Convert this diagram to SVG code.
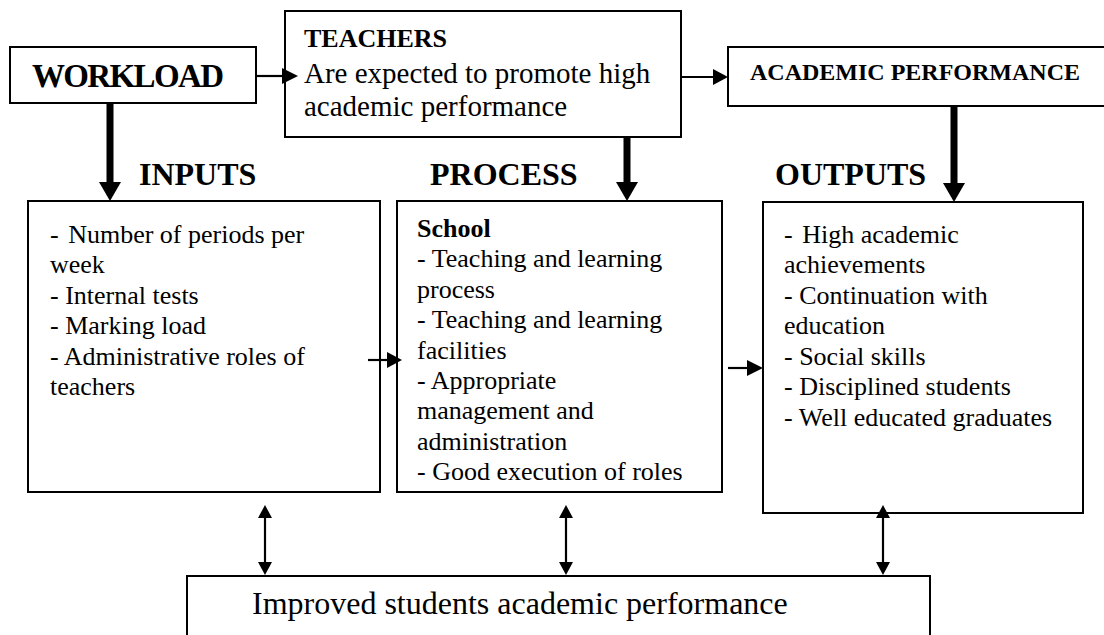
<svg xmlns="http://www.w3.org/2000/svg" width="1104" height="635" viewBox="0 0 1104 635">
<style>
.box{fill:#fff;stroke:#000;stroke-width:2}
.t{font-family:"Liberation Serif","Times New Roman",serif;fill:#000}
.b{font-weight:bold}
.body{font-size:26px}
.title{font-size:32px;font-weight:bold}
.thin{stroke:#000;stroke-width:2.2;fill:none}
.thick{stroke:#000;stroke-width:7;fill:none}
.head{fill:#000}
</style>
<rect width="1104" height="635" fill="#fff"/>

<g id="workload">
<rect class="box" x="10" y="47" width="246" height="56"/>
<text class="t b" x="32" y="87" font-size="33" textLength="192" lengthAdjust="spacing">WORKLOAD</text>
</g>

<g id="teachers">
<rect class="box" x="285" y="11" width="396" height="126"/>
<text class="t b" x="304" y="47" font-size="26">TEACHERS</text>
<text class="t" x="304" y="83" font-size="29">Are expected to promote high</text>
<text class="t" x="304" y="116" font-size="29">academic performance</text>
</g>

<g id="academic-performance">
<rect class="box" x="728" y="47" width="390" height="59"/>
<text class="t b" x="750" y="80" font-size="24">ACADEMIC PERFORMANCE</text>
</g>

<g id="labels">
<text class="t title" x="139" y="185">INPUTS</text>
<text class="t title" x="430" y="185">PROCESS</text>
<text class="t title" x="775" y="185">OUTPUTS</text>
</g>

<g id="inputs">
<rect class="box" x="28" y="201" width="352" height="291"/>
<text class="t body" x="50" y="243">- <tspan dx="3">Number of periods per</tspan></text>
<text class="t body" x="50" y="273">week</text>
<text class="t body" x="50" y="304">- Internal tests</text>
<text class="t body" x="50" y="334">- Marking load</text>
<text class="t body" x="50" y="365">- Administrative roles  of</text>
<text class="t body" x="50" y="395">teachers</text>
</g>

<g id="process">
<rect class="box" x="397" y="201" width="325" height="291"/>
<text class="t body b" x="417" y="237">School</text>
<text class="t body" x="417" y="267">- Teaching and learning</text>
<text class="t body" x="417" y="298">process</text>
<text class="t body" x="417" y="328">- Teaching and learning</text>
<text class="t body" x="417" y="359">facilities</text>
<text class="t body" x="417" y="389">- Appropriate</text>
<text class="t body" x="417" y="419">management and</text>
<text class="t body" x="417" y="450">administration</text>
<text class="t body" x="417" y="480">- Good execution of roles</text>
</g>

<g id="outputs">
<rect class="box" x="763" y="202" width="320" height="311"/>
<text class="t body" x="784" y="243">- <tspan dx="3">High academic</tspan></text>
<text class="t body" x="784" y="273">achievements</text>
<text class="t body" x="784" y="304">- Continuation with</text>
<text class="t body" x="784" y="334">education</text>
<text class="t body" x="784" y="365">- Social skills</text>
<text class="t body" x="784" y="395">- Disciplined students</text>
<text class="t body" x="784" y="426">- Well educated graduates</text>
</g>

<g id="result">
<rect class="box" x="187" y="576" width="743" height="80"/>
<text class="t" x="252" y="614" font-size="32">Improved students academic performance</text>
</g>

<g id="connectors">
<line class="thin" x1="256" y1="76" x2="284" y2="76"/>
<polygon class="head" points="282,68 298,76 282,84"/>
<line class="thin" x1="681" y1="77" x2="715" y2="77"/>
<polygon class="head" points="713,69 728,77 713,85"/>
<line class="thin" x1="368" y1="360" x2="390" y2="360"/>
<polygon class="head" points="387,352 402,360 387,368"/>
<line class="thin" x1="728" y1="368" x2="750" y2="368"/>
<polygon class="head" points="747,360 763,368 747,376"/>
<line class="thick" x1="110" y1="103" x2="110" y2="185"/>
<polygon class="head" points="99,182 121,182 110,201"/>
<line class="thick" x1="627" y1="137" x2="627" y2="185"/>
<polygon class="head" points="616,182 638,182 627,201"/>
<line class="thick" x1="954" y1="106" x2="954" y2="186"/>
<polygon class="head" points="943,183 965,183 954,202"/>
<line class="thin" x1="265" y1="515" x2="265" y2="565"/>
<polygon class="head" points="258,518 265,505 272,518"/>
<polygon class="head" points="258,562 265,575 272,562"/>
<line class="thin" x1="566" y1="515" x2="566" y2="565"/>
<polygon class="head" points="559,518 566,505 573,518"/>
<polygon class="head" points="559,562 566,575 573,562"/>
<line class="thin" x1="883" y1="515" x2="883" y2="565"/>
<polygon class="head" points="876,518 883,505 890,518"/>
<polygon class="head" points="876,562 883,575 890,562"/>
</g>
</svg>
